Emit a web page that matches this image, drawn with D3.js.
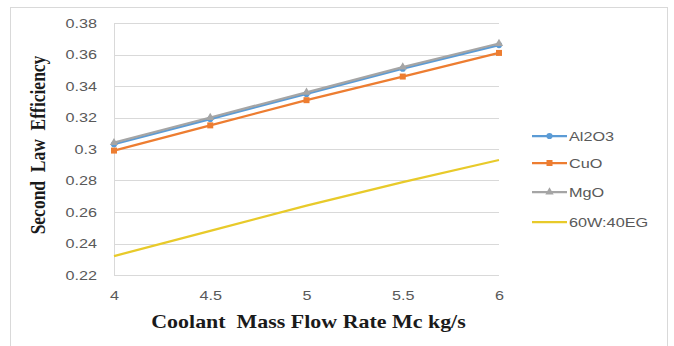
<!DOCTYPE html>
<html>
<head>
<meta charset="utf-8">
<script src="https://cdn.jsdelivr.net/npm/d3@7"></script>
<style>
  html, body { margin: 0; padding: 0; background: #fff; }
  svg { display: block; }
  .pre { white-space: pre; }
</style>
</head>
<body>
<svg id="chart" width="674" height="346"></svg>
<script>
// Coolant mass flow rate (kg/s)
const flowRates = [4, 4.5, 5, 5.5, 6];
// Second law efficiency per coolant
const al2o3 = [0.303, 0.319, 0.335, 0.351, 0.366];
const cuo   = [0.299, 0.315, 0.331, 0.346, 0.361];
const mgo   = [0.304, 0.320, 0.336, 0.352, 0.367];
const baseFluid = [0.232, 0.248, 0.264, 0.279, 0.293];
const seriesNames = ["Al2O3", "CuO", "MgO", "60W:40EG"];
const yTicks = [0.22, 0.24, 0.26, 0.28, 0.3, 0.32, 0.34, 0.36, 0.38];
const xTicks = [4, 4.5, 5, 5.5, 6];

const seriesValues = [al2o3, cuo, mgo, baseFluid];
const colors = ["#5B9BD5", "#ED7D31", "#A5A5A5", "#E8CA2A"];
const markers = [d3.symbolCircle, d3.symbolSquare, d3.symbolTriangle, null];

const sansFont = "'Liberation Sans', Arial, sans-serif";
const serifFont = "'Liberation Serif', 'Times New Roman', serif";
const WIDEN = 1.2; // horizontal widening of the chart's lettering

const svg = d3.select("#chart");

// outer chart frame
svg.append("rect")
  .attr("x", 10.5).attr("y", 7.5)
  .attr("width", 657).attr("height", 345)
  .attr("fill", "#fff").attr("stroke", "#D9D9D9").attr("stroke-width", 1);

const plot = { left: 114, right: 499, top: 23, bottom: 275 };

const x = d3.scaleLinear().domain([4, 6]).range([plot.left, plot.right]);
const y = d3.scaleLinear().domain([0.22, 0.38]).range([plot.bottom, plot.top]);

// horizontal gridlines
svg.append("g")
  .selectAll("line")
  .data(yTicks)
  .join("line")
  .attr("x1", plot.left).attr("x2", plot.right)
  .attr("y1", d => Math.round(y(d)) + 0.5).attr("y2", d => Math.round(y(d)) + 0.5)
  .attr("stroke", "#D9D9D9").attr("stroke-width", 1);

// vertical axis line
svg.append("line")
  .attr("x1", plot.left + 0.5).attr("x2", plot.left + 0.5)
  .attr("y1", plot.top).attr("y2", plot.bottom)
  .attr("stroke", "#D9D9D9");

// y axis labels (right-aligned, widened about their right edge)
const yAxis = d3.axisLeft(y).tickValues(yTicks).tickSize(0).tickPadding(0)
  .tickFormat(d => d3.format("~g")(d));
svg.append("g")
  .attr("transform", `translate(97,0)`)
  .call(yAxis)
  .call(g => g.select(".domain").remove())
  .call(g => g.selectAll("text")
    .attr("x", 0)
    .attr("transform", `scale(${WIDEN},1)`)
    .attr("font-family", sansFont)
    .attr("font-size", 13.5).attr("fill", "#595959"));

// x axis labels
const xAxis = d3.axisBottom(x).tickValues(xTicks).tickSize(0).tickPadding(0)
  .tickFormat(d => d3.format("~g")(d));
svg.append("g")
  .attr("transform", `translate(0,${plot.bottom})`)
  .call(xAxis)
  .call(g => g.select(".domain").remove())
  .call(g => g.selectAll("text")
    .attr("y", 15)
    .attr("transform", `scale(${WIDEN},1)`)
    .attr("font-family", sansFont)
    .attr("font-size", 13.5).attr("fill", "#595959"));

// axis titles
svg.append("text")
  .attr("class", "pre")
  .attr("transform", `translate(${(plot.left + plot.right) / 2 + 2},328) scale(${WIDEN + 0.02},1)`)
  .attr("text-anchor", "middle")
  .attr("font-family", serifFont)
  .attr("font-weight", "bold").attr("font-size", 18).attr("fill", "#1a1a1a")
  .text("Coolant  Mass Flow Rate Mc kg/s");

svg.append("text")
  .attr("class", "pre")
  .attr("transform", `translate(45,${(plot.top + plot.bottom) / 2 - 4}) scale(${WIDEN},1) rotate(-90)`)
  .attr("text-anchor", "middle")
  .attr("font-family", serifFont)
  .attr("font-weight", "bold").attr("font-size", 17.5).attr("fill", "#1a1a1a")
  .text("Second  Law  Efficiency");

// series lines and markers
const line = d3.line().x((d, i) => x(flowRates[i])).y(d => y(d));
const drawOrder = [3, 0, 1, 2];
drawOrder.forEach(k => {
  svg.append("path")
    .datum(seriesValues[k])
    .attr("d", line)
    .attr("fill", "none")
    .attr("stroke", colors[k])
    .attr("stroke-width", 2.25)
    .attr("stroke-linejoin", "round");
  if (markers[k]) {
    svg.append("g")
      .selectAll("path")
      .data(seriesValues[k])
      .join("path")
      .attr("transform", (d, i) => `translate(${x(flowRates[i])},${y(d)})`)
      .attr("d", d3.symbol().type(markers[k]).size(k === 1 ? 36 : 30))
      .attr("fill", colors[k]);
  }
});

// legend
const legendY = [136, 163, 192, 222];
const legend = svg.append("g");
seriesNames.forEach((name, k) => {
  const g = legend.append("g").attr("transform", `translate(532,${legendY[k]})`);
  g.append("line").attr("x1", 0).attr("x2", 35).attr("y1", 0).attr("y2", 0)
    .attr("stroke", colors[k]).attr("stroke-width", 2.25);
  if (markers[k]) {
    g.append("path").attr("transform", "translate(17.5,0)")
      .attr("d", d3.symbol().type(markers[k]).size(k === 1 ? 36 : 30))
      .attr("fill", colors[k]);
  }
  g.append("text")
    .attr("transform", `translate(37,5) scale(1.25,1)`)
    .attr("font-family", sansFont)
    .attr("font-size", 13).attr("fill", "#595959")
    .text(name);
});
</script>
</body>
</html>
